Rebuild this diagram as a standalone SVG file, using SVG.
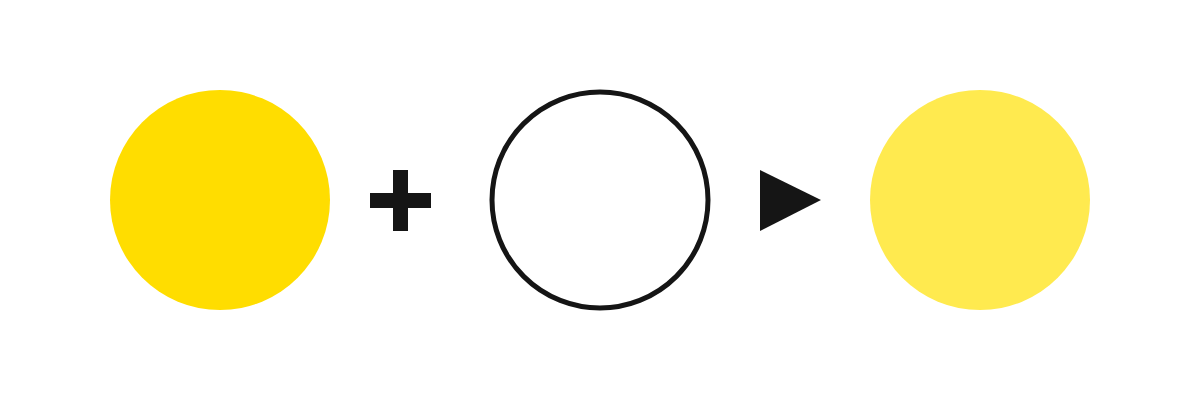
<svg xmlns="http://www.w3.org/2000/svg" width="1200" height="400" viewBox="0 0 1200 400">
<style>
.dark{fill:#151515}
</style>
<rect width="1200" height="400" fill="#ffffff"/>
<g id="yellow-circle"><circle cx="220" cy="200" r="110" fill="#FFDD00"/></g>
<g id="plus"><rect class="dark" x="370" y="193" width="61" height="15"/><rect class="dark" x="393" y="170" width="15" height="61"/></g>
<g id="empty-circle"><circle cx="600" cy="200" r="108" fill="none" stroke="#151515" stroke-width="5"/></g>
<g id="connectors"><polygon class="dark" points="760,170 760,231 821,200"/></g>
<g id="result-circle"><circle cx="980" cy="200" r="110" fill="#FFEA4F"/></g>
</svg>
